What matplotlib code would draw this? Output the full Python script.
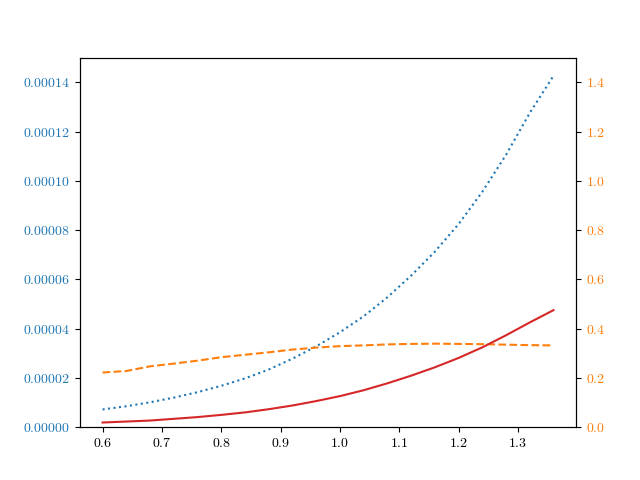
import numpy as np
import matplotlib
matplotlib.use("Agg")
import matplotlib.pyplot as plt

plt.rcParams['font.family'] = 'serif'
plt.rcParams['font.serif'] = ['cmr10', 'DejaVu Serif']
plt.rcParams['mathtext.fontset'] = 'cm'
plt.rcParams['axes.formatter.use_mathtext'] = True

x = [0.60, 0.64, 0.68, 0.72, 0.76, 0.80, 0.84, 0.88, 0.92, 0.96,
     1.00, 1.04, 1.08, 1.12, 1.16, 1.20, 1.24, 1.28, 1.32, 1.36]
blue = [0.72, 0.85, 1.01, 1.20, 1.42, 1.68, 1.98, 2.34, 2.78, 3.28,
        3.85, 4.50, 5.27, 6.15, 7.12, 8.24, 9.55, 11.05, 12.75, 14.26]
blue = [v * 1e-5 for v in blue]
red = [0.019, 0.023, 0.027, 0.034, 0.041, 0.050, 0.060, 0.073, 0.088, 0.106,
       0.126, 0.150, 0.178, 0.209, 0.243, 0.281, 0.324, 0.373, 0.425, 0.475]
orange = [0.222, 0.228, 0.247, 0.258, 0.270, 0.284, 0.294, 0.304, 0.315, 0.323,
          0.329, 0.332, 0.336, 0.338, 0.339, 0.338, 0.337, 0.335, 0.333, 0.332]

fig, ax = plt.subplots(figsize=(6.4, 4.8), dpi=100)
ax.plot(x, blue, ':', color='tab:blue')
ax.set_ylim(0, 1.5e-4)
ax.tick_params(axis='y', labelcolor='tab:blue')

ax2 = ax.twinx()
ax2.plot(x, orange, '--', color='tab:orange')
ax2.plot(x, red, '-', color='tab:red')
ax2.set_ylim(0, 1.5)
ax2.tick_params(axis='y', labelcolor='tab:orange')

fig.savefig('out.png', dpi=100)
